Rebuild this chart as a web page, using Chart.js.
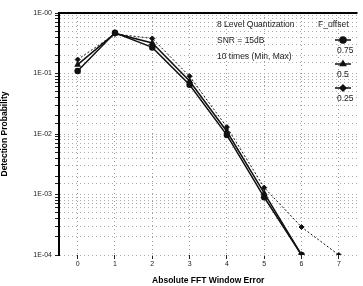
<!DOCTYPE html>
<html>
<head>
<meta charset="UTF-8">
<title>Detection Probability vs FFT Window Error</title>
<script src="https://cdn.jsdelivr.net/npm/chart.js"></script>
<style>
    body { margin: 0; background: #fff; }
    #wrap { position: relative; width: 363px; height: 286px; }
</style>
</head>
<body>
<div id="wrap"><canvas id="chart"></canvas></div>
<script>
// window error values (x axis)
const windowError = [0, 1, 2, 3, 4, 5, 6, 7];
const xTicks = [0, 1, 2, 3, 4, 5, 6, 7];

// detection probability per F_offset
const offsetLabels = ['0.75', '0.5', '0.25'];
const pOff075 = [0.11, 0.47, 0.27, 0.065, 0.0096, 0.0009, 1e-4, null];
const pOff05  = [0.14, 0.46, 0.32, 0.075, 0.011, 0.00105, 1e-4, null];
const pOff025 = [0.17, 0.45, 0.38, 0.09, 0.013, 0.0013, 0.00029, 1e-4];

const notes = ['8 Level Quantization', 'SNR = 15dB', '10 times (Min, Max)'];

function pts(arr) {
    return windowError.map((x, i) => ({ x: x, y: arr[i] }));
}

const styles = [
    { shape: 'circle', dash: [], width: 1.5 },
    { shape: 'triangle', dash: [], width: 1.5 },
    { shape: 'rectRot', dash: [2, 2], width: 1 }
];
const series = [pOff075, pOff05, pOff025];
const FONT = '"Liberation Sans", Arial, sans-serif';

const datasets = series.map((s, i) => ({
    label: offsetLabels[i],
    data: pts(s),
    borderColor: '#111',
    backgroundColor: '#111',
    borderWidth: styles[i].width,
    borderDash: styles[i].dash,
    pointStyle: styles[i].shape,
    pointRadius: 2.5,
    pointBackgroundColor: '#111',
    pointBorderColor: '#111',
    tension: 0
}));

// text notes, legend block, top frame line
const overlay = {
    id: 'overlay',
    afterDraw(chart) {
        const ctx = chart.ctx;
        const area = chart.chartArea;
        ctx.save();
        ctx.strokeStyle = '#000';
        ctx.lineWidth = 2;
        ctx.beginPath();
        ctx.moveTo(area.left, area.top);
        ctx.lineTo(area.right, area.top);
        ctx.stroke();

        ctx.fillStyle = '#222';
        ctx.font = '8.5px ' + FONT;
        ctx.textBaseline = 'middle';
        ctx.textAlign = 'left';
        notes.forEach((t, i) => ctx.fillText(t, 217, 25 + i * 16));

        ctx.fillText('F_offset', 318, 25);
        offsetLabels.forEach((lab, i) => {
            const y = 40 + i * 24;
            ctx.strokeStyle = '#111';
            ctx.lineWidth = 1.5;
            ctx.beginPath();
            ctx.moveTo(335, y);
            ctx.lineTo(351, y);
            ctx.stroke();
            Chart.helpers.drawPoint(ctx, { pointStyle: styles[i].shape, radius: 3, borderWidth: 1 }, 343, y);
            ctx.fillStyle = '#111';
            ctx.fill();
            ctx.fillStyle = '#222';
            ctx.fillText(lab, 337, y + 11);
        });
        ctx.restore();
    }
};

new Chart(document.getElementById('chart'), {
    type: 'line',
    data: { datasets: datasets },
    plugins: [overlay],
    options: {
        responsive: true,
        maintainAspectRatio: false,
        animation: false,
        layout: { padding: { top: 13, right: 0, left: 0, bottom: 0 } },
        plugins: { legend: { display: false }, tooltip: { enabled: false } },
        scales: {
            x: {
                type: 'linear',
                min: -0.5,
                max: 7.5,
                afterBuildTicks: s => { s.ticks = xTicks.map(v => ({ value: v })); },
                afterFit: s => { s.height = 31; },
                border: { display: false, dash: [1, 3] },
                grid: {
                    color: '#999',
                    tickColor: '#222',
                    tickLength: 4,
                    tickBorderDash: []
                },
                ticks: {
                    color: '#222',
                    font: { size: 7, family: FONT },
                    padding: 1,
                    maxRotation: 0
                },
                title: {
                    display: true,
                    text: 'Absolute FFT Window Error',
                    color: '#000',
                    font: { size: 8.5, weight: 'bold', family: FONT },
                    padding: { top: 1, bottom: 0 }
                }
            },
            y: {
                type: 'logarithmic',
                min: 1e-4,
                max: 1,
                afterFit: s => { s.width = 59; },
                border: { display: true, color: '#000', width: 2, dash: [1, 3] },
                grid: {
                    color: '#aaa',
                    tickColor: '#222',
                    tickLength: 4,
                    tickBorderDash: []
                },
                ticks: {
                    color: '#222',
                    font: { size: 7, family: FONT },
                    padding: 3,
                    autoSkip: false,
                    callback: function (v) {
                        const e = Math.log10(v);
                        if (Math.abs(e - Math.round(e)) > 1e-6) return '';
                        const n = Math.abs(Math.round(e));
                        return '1E-' + (n < 10 ? '0' + n : n);
                    }
                },
                title: {
                    display: true,
                    text: 'Detection Probability',
                    color: '#000',
                    font: { size: 8.5, weight: 'bold', family: FONT },
                    padding: { top: 0, bottom: 2 }
                }
            }
        }
    }
});
</script>
</body>
</html>
